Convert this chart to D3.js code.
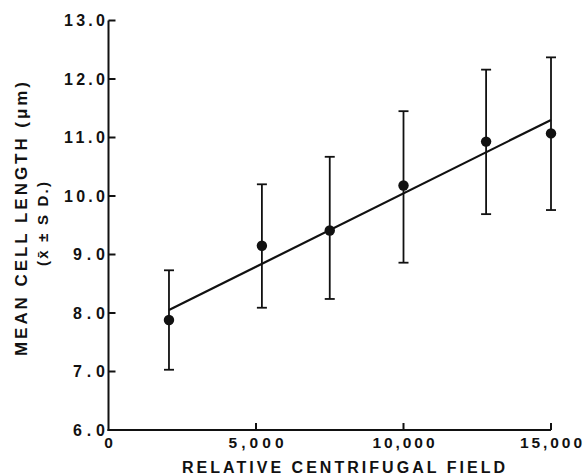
<!DOCTYPE html>
<html>
<head>
<meta charset="utf-8">
<script src="https://cdn.jsdelivr.net/npm/d3@7"></script>
<style>
  html, body { margin: 0; padding: 0; background: #fff; }
  svg { display: block; }
  text { font-family: "Liberation Sans", Arial, sans-serif; font-weight: bold; fill: #111; }
</style>
</head>
<body>
<svg id="chart" width="585" height="476"></svg>
<script>
// ---- data ----
const rcf = [2050, 5200, 7500, 10000, 12800, 15000];
const meanLength = [7.88, 9.15, 9.41, 10.18, 10.93, 11.07];
const sdUpper = [8.73, 10.20, 10.67, 11.45, 12.16, 12.37];
const sdLower = [7.03, 8.09, 8.24, 8.86, 9.69, 9.76];
const fitX = [2050, 15000];
const fitY = [8.05, 11.30];
const xTicks = [0, 5000, 10000, 15000];
const xTickLabels = ["0", "5,000", "10,000", "15,000"];
const yTicks = [6, 7, 8, 9, 10, 11, 12, 13];
const yTickLabels = ["6.0", "7.0", "8.0", "9.0", "10.0", "11.0", "12.0", "13.0"];
const xTitle = "RELATIVE CENTRIFUGAL FIELD";
const yTitle1 = "MEAN CELL LENGTH (\u03bcm)";
const yTitle2 = "(x\u0304 \u00b1 S D.)";

// ---- layout ----
const svg = d3.select("#chart");
const x = d3.scaleLinear().domain([0, 15000]).range([108.5, 551]);
const y = d3.scaleLinear().domain([6, 13]).range([430, 20.5]);
const ink = "#111";

// axes lines
svg.append("line").attr("x1", x(0)).attr("x2", x(0)).attr("y1", y(6) + 1).attr("y2", y(13))
  .attr("stroke", ink).attr("stroke-width", 2);
svg.append("line").attr("x1", x(0) - 1).attr("x2", x(15000)).attr("y1", y(6)).attr("y2", y(6))
  .attr("stroke", ink).attr("stroke-width", 2);

// y ticks (inward)
svg.selectAll(".yt").data(yTicks.slice(1)).enter().append("line")
  .attr("x1", x(0)).attr("x2", x(0) + 7)
  .attr("y1", d => y(d)).attr("y2", d => y(d))
  .attr("stroke", ink).attr("stroke-width", 2);
// x ticks (inward)
svg.selectAll(".xt").data(xTicks.slice(1)).enter().append("line")
  .attr("x1", d => x(d)).attr("x2", d => x(d))
  .attr("y1", y(6)).attr("y2", y(6) - 7)
  .attr("stroke", ink).attr("stroke-width", 2);

// y tick labels
svg.selectAll(".yl").data(yTicks).enter().append("text")
  .attr("x", 105).attr("y", d => y(d) + 5.8)
  .attr("text-anchor", "end")
  .attr("font-size", 16)
  .attr("textLength", (d, i) => yTickLabels[i].length === 4 ? 41 : 32)
  .attr("lengthAdjust", "spacing")
  .text((d, i) => yTickLabels[i]);

// x tick labels
svg.selectAll(".xl").data(xTicks).enter().append("text")
  .attr("x", d => x(d)).attr("y", 448.3)
  .attr("text-anchor", "middle")
  .attr("font-size", 15.5)
  .each(function (d, i) {
    const s = xTickLabels[i];
    if (s.length > 1) d3.select(this).attr("textLength", s.length === 5 ? 55 : 62).attr("lengthAdjust", "spacing");
  })
  .text((d, i) => xTickLabels[i]);

// x title
svg.append("text")
  .attr("x", 182).attr("y", 473.3)
  .attr("font-size", 16)
  .attr("textLength", 323).attr("lengthAdjust", "spacing")
  .text(xTitle);

// y titles
svg.append("text")
  .attr("transform", "translate(27,356) rotate(-90)")
  .attr("font-size", 17)
  .attr("textLength", 274).attr("lengthAdjust", "spacing")
  .text(yTitle1);
svg.append("text")
  .attr("transform", "translate(48,266) rotate(-90)")
  .attr("font-size", 15)
  .attr("textLength", 84).attr("lengthAdjust", "spacing")
  .text(yTitle2);

// fit line
svg.append("line")
  .attr("x1", x(fitX[0])).attr("y1", y(fitY[0]))
  .attr("x2", x(fitX[1])).attr("y2", y(fitY[1]))
  .attr("stroke", ink).attr("stroke-width", 2.2);

// error bars
const pts = rcf.map((v, i) => ({ x: v, m: meanLength[i], lo: sdLower[i], hi: sdUpper[i] }));
const eb = svg.selectAll(".eb").data(pts).enter().append("g");
eb.append("line").attr("x1", d => x(d.x)).attr("x2", d => x(d.x))
  .attr("y1", d => y(d.lo)).attr("y2", d => y(d.hi))
  .attr("stroke", ink).attr("stroke-width", 1.8);
eb.append("line").attr("x1", d => x(d.x) - 5).attr("x2", d => x(d.x) + 5)
  .attr("y1", d => y(d.lo)).attr("y2", d => y(d.lo))
  .attr("stroke", ink).attr("stroke-width", 1.8);
eb.append("line").attr("x1", d => x(d.x) - 5).attr("x2", d => x(d.x) + 5)
  .attr("y1", d => y(d.hi)).attr("y2", d => y(d.hi))
  .attr("stroke", ink).attr("stroke-width", 1.8);

// points
svg.selectAll(".pt").data(pts).enter().append("circle")
  .attr("cx", d => x(d.x)).attr("cy", d => y(d.m)).attr("r", 5.2)
  .attr("fill", ink);
</script>
</body>
</html>
